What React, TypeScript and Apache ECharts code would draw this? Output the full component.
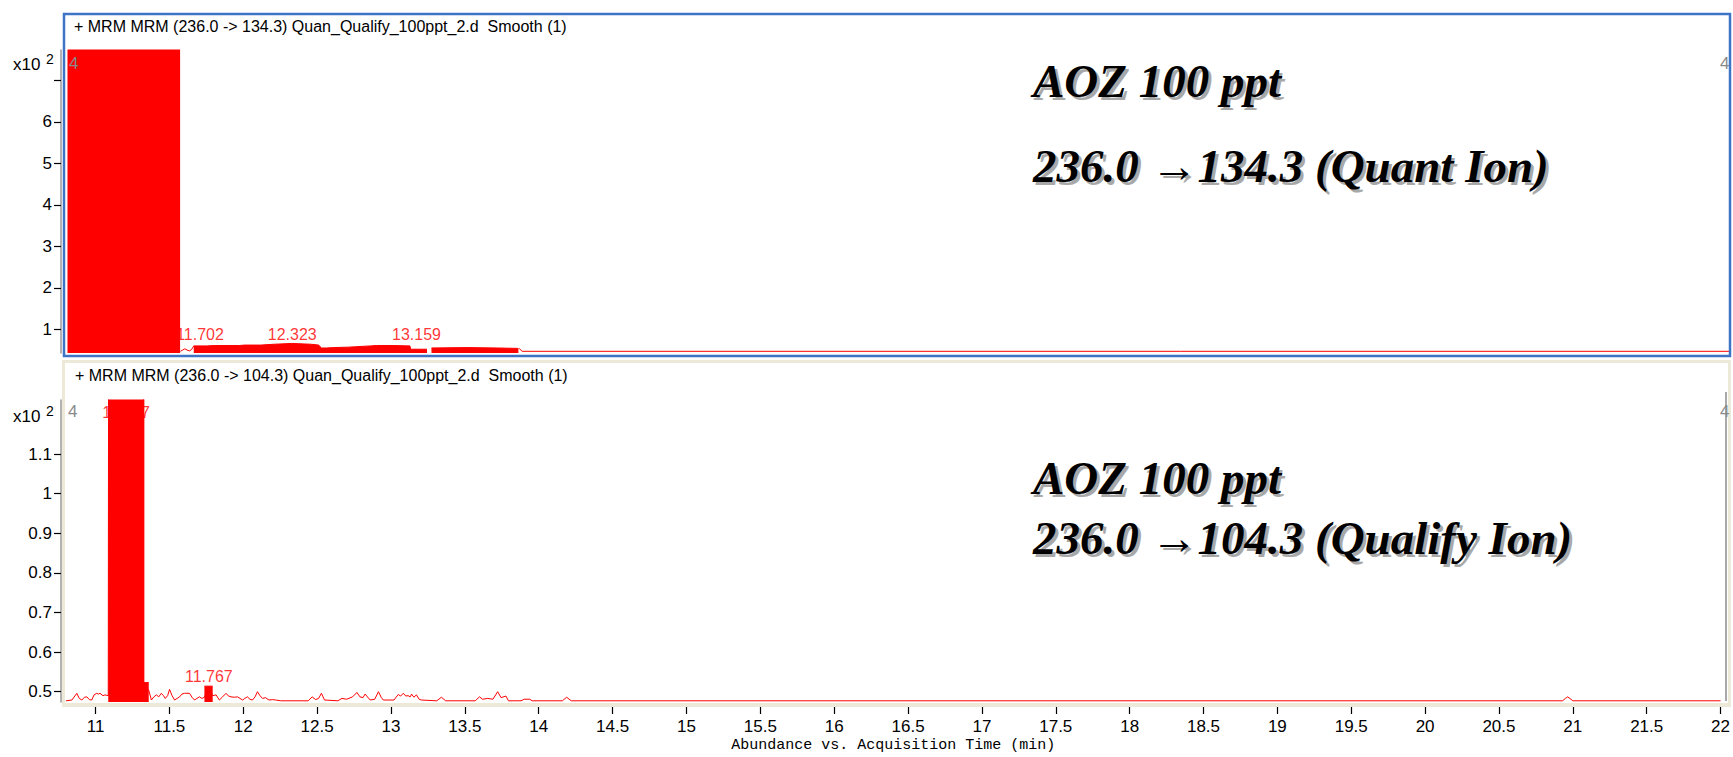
import React, { useEffect, useRef } from "react";
import * as echarts from "echarts";

const W = 1733;
const H = 757;

// ---- axis ticks ----
const xTicks = [11, 11.5, 12, 12.5, 13, 13.5, 14, 14.5, 15, 15.5, 16, 16.5, 17, 17.5, 18, 18.5, 19, 19.5, 20, 20.5, 21, 21.5, 22];
const topYLabels = [1, 2, 3, 4, 5, 6];
const topYTicks = [1, 2, 3, 4, 5, 6, 7];
const bottomYTicks = [0.5, 0.6, 0.7, 0.8, 0.9, 1, 1.1];

// ---- top panel (236.0 -> 134.3) ----
const topFillTimes = [10.81, 11.568, 11.6, 11.66, 11.75, 11.8, 11.97, 12.0, 12.11, 12.2, 12.32, 12.45, 12.5, 12.52, 12.555, 12.6, 12.7, 12.85, 12.89, 13.0, 13.115, 13.12, 13.23, 13.245, 13.26, 13.5, 13.7, 13.845];
const topFillValues = [9, 9, null, 0.6, 0.6, 0.61, 0.61, 0.62, 0.62, 0.64, 0.66, 0.64, 0.62, 0.55, 0.55, 0.56, 0.57, 0.6, 0.61, 0.61, 0.6, 0.52, 0.52, null, 0.55, 0.56, 0.55, 0.54];
const topTraceTimes = [11.57, 11.585, 11.6, 11.615, 11.63, 11.645, 11.66, 11.7, 13.85, 13.87, 18.3, 22];
const topTraceValues = [0.47, 0.5, 0.53, 0.5, 0.48, 0.51, 0.6, null, 0.54, 0.47, 0.47, 0.47];
const topPeakTimes = [11.702, 12.323, 13.159];
const topPeakLabelLevels = [0.863, 0.863, 0.863];

// ---- bottom panel (236.0 -> 104.3) ----
const bottomFillTimes = [11.086, 11.326, 11.326, 11.36, 11.4, 11.737, 11.793];
const bottomFillValues = [2, 2, 0.523, 0.523, null, 0.514, 0.514];
const bottomTraceTimes = [
  10.8, 10.84, 10.873, 10.89, 10.907, 10.925, 10.941, 10.958, 10.974, 10.99, 11.008, 11.02, 11.03, 11.05, 11.064, 11.086,
  11.09, 11.326, 11.326, 11.36, 11.378, 11.395, 11.412, 11.428, 11.445, 11.46, 11.472, 11.488, 11.501, 11.518, 11.535, 11.552,
  11.569, 11.585, 11.602, 11.619, 11.636, 11.653, 11.67, 11.686, 11.703, 11.72, 11.737, 11.765, 11.793, 11.816, 11.838,
  11.86, 11.883, 11.9, 11.917, 11.94, 11.961, 11.978, 11.995, 12.01, 12.028, 12.045, 12.062, 12.08, 12.096, 12.113,
  12.13, 12.15, 12.174, 12.2, 12.219, 12.253, 12.44, 12.466, 12.49, 12.51, 12.529, 12.55, 12.64, 12.668, 12.7, 12.74,
  12.769, 12.79, 12.81, 12.825, 12.845, 12.859, 12.89, 12.915, 12.935, 12.948, 13.02, 13.049, 13.065, 13.083, 13.1,
  13.116, 13.13, 13.139, 13.155, 13.172, 13.19, 13.206, 13.31, 13.341, 13.37, 13.57, 13.599, 13.62, 13.655, 13.69,
  13.722, 13.745, 13.778, 13.795, 13.88, 13.902, 13.94, 13.955, 14.16, 14.189, 14.22, 20.93, 20.95, 20.965, 20.98, 21.0, 22.0,
];
const bottomTraceValues = [
  0.477, 0.479, 0.496, 0.483, 0.479, 0.486, 0.487, 0.48, 0.479, 0.492, 0.496, 0.494, 0.496, 0.49, 0.492, 0.49,
  2, 2, 0.52, 0.504, 0.479, 0.487, 0.492, 0.487, 0.496, 0.49, 0.483, 0.49, 0.506, 0.49, 0.479, 0.483,
  0.487, 0.494, 0.496, 0.496, 0.496, 0.486, 0.479, 0.483, 0.487, 0.483, 0.486, 0.514, 0.49, 0.492, 0.479,
  0.487, 0.496, 0.489, 0.487, 0.486, 0.487, 0.483, 0.479, 0.483, 0.487, 0.481, 0.479, 0.487, 0.5, 0.49,
  0.483, 0.485, 0.479, 0.48, 0.479, 0.477, 0.477, 0.487, 0.48, 0.483, 0.496, 0.479, 0.477, 0.483, 0.481, 0.487,
  0.498, 0.487, 0.485, 0.494, 0.485, 0.479, 0.481, 0.5, 0.485, 0.479, 0.479, 0.493, 0.489, 0.496, 0.489,
  0.49, 0.487, 0.494, 0.486, 0.492, 0.481, 0.479, 0.477, 0.486, 0.477, 0.477, 0.487, 0.481, 0.483, 0.481,
  0.5, 0.485, 0.489, 0.477, 0.477, 0.481, 0.481, 0.477, 0.477, 0.486, 0.477, 0.477, 0.483, 0.487, 0.483, 0.477, 0.477,
];
const bottomPeakTimes = [11.207, 11.767];
const bottomPeakLabelLevels = [1.204, 0.538];

const topHeader = "+ MRM MRM (236.0 -> 134.3) Quan_Qualify_100ppt_2.d  Smooth (1)";
const bottomHeader = "+ MRM MRM (236.0 -> 104.3) Quan_Qualify_100ppt_2.d  Smooth (1)";
const topNote = ["AOZ 100 ppt", "236.0 \u2192134.3 (Quant Ion)"];
const bottomNote = ["AOZ 100 ppt", "236.0 \u2192104.3 (Qualify Ion)"];
const xAxisTitle = "Abundance vs. Acquisition Time (min)";

const SANS = "'Liberation Sans', Arial, sans-serif";
const RED = "#ff0000";

const zip = (t: number[], v: (number | null)[]) => t.map((x, i) => [x, v[i] === null ? "-" : v[i]]);

function noteTexts(lines: string[], x: number, ys: number[]) {
  const out: any[] = [];
  lines.forEach((txt, i) => {
    const common = { text: txt, fontFamily: "'Liberation Serif', 'Times New Roman', serif", fontSize: 47, fontWeight: "bold", fontStyle: "italic", verticalAlign: "middle", align: "left" };
    out.push({ type: "text", x: x + 3, y: ys[i] + 3, z: 20, style: { ...common, fill: "#a8a8a8" } });
    out.push({ type: "text", x: x, y: ys[i], z: 21, style: { ...common, fill: "#000" } });
  });
  return out;
}

export default function App() {
  const ref = useRef<HTMLDivElement>(null);
  useEffect(() => {
    document.body.style.margin = "0";
    const chart = echarts.init(ref.current!, null, { renderer: "svg", width: W, height: H });
    const labelStyle = { show: true, position: "inside", color: RED, fontSize: 16, fontFamily: SANS, formatter: (p: any) => p.value[0].toFixed(3) };
    const tickStyle = { color: "#000", width: 1.2 };
    const option: any = {
      animation: false,
      backgroundColor: "#fff",
      grid: [
        { left: 66, width: 1664, top: 50, height: 303 },
        { left: 66, width: 1664, top: 400, height: 302 },
      ],
      xAxis: [
        { type: "value", gridIndex: 0, min: 10.8, max: 22, show: false },
        {
          type: "value", gridIndex: 1, min: 10.8, max: 22, offset: 5,
          axisLine: { show: false },
          axisTick: { show: true, length: 7, lineStyle: tickStyle, customValues: xTicks },
          axisLabel: { show: true, customValues: xTicks, margin: 11, color: "#000", fontSize: 17, fontFamily: SANS, formatter: (v: number) => String(v) },
          splitLine: { show: false },
          name: xAxisTitle, nameLocation: "middle", nameGap: 31,
          nameTextStyle: { fontFamily: "'Liberation Mono', 'DejaVu Sans Mono', monospace", fontSize: 15, color: "#000" },
        },
      ],
      yAxis: [
        {
          type: "value", gridIndex: 0, min: 0.429, max: 7.73, offset: 5,
          axisLine: { show: true, lineStyle: { color: "#9a9a9a", width: 1.5 } },
          axisTick: { show: true, length: 7, lineStyle: tickStyle, customValues: topYTicks },
          axisLabel: { show: true, customValues: topYLabels, margin: 9, color: "#000", fontSize: 17, fontFamily: SANS },
          splitLine: { show: false },
        },
        {
          type: "value", gridIndex: 1, min: 0.474, max: 1.2366, offset: 5,
          axisLine: { show: true, lineStyle: { color: "#9a9a9a", width: 1.5 } },
          axisTick: { show: true, length: 7, lineStyle: tickStyle, customValues: bottomYTicks },
          axisLabel: { show: true, customValues: bottomYTicks, margin: 9, color: "#000", fontSize: 17, fontFamily: SANS, formatter: (v: number) => String(Math.round(v * 10) / 10) },
          splitLine: { show: false },
        },
      ],
      series: [
        { type: "scatter", name: "topPeaks", xAxisIndex: 0, yAxisIndex: 0, z: 1, symbolSize: 0, data: topPeakTimes.map((t, i) => [t, topPeakLabelLevels[i]]), label: labelStyle },
        { type: "line", name: "topFill", xAxisIndex: 0, yAxisIndex: 0, z: 3, symbol: "none", connectNulls: false, data: zip(topFillTimes, topFillValues), lineStyle: { color: RED, width: 1 }, areaStyle: { color: RED, opacity: 1, origin: "start" } },
        { type: "line", name: "topTrace", xAxisIndex: 0, yAxisIndex: 0, z: 4, symbol: "none", connectNulls: false, data: zip(topTraceTimes, topTraceValues), lineStyle: { color: RED, width: 1 } },
        { type: "scatter", name: "bottomPeaks", xAxisIndex: 1, yAxisIndex: 1, z: 1, symbolSize: 0, data: bottomPeakTimes.map((t, i) => [t, bottomPeakLabelLevels[i]]), label: labelStyle },
        { type: "line", name: "bottomTrace", xAxisIndex: 1, yAxisIndex: 1, z: 2, symbol: "none", data: zip(bottomTraceTimes, bottomTraceValues), lineStyle: { color: RED, width: 1 } },
        { type: "line", name: "bottomFill", xAxisIndex: 1, yAxisIndex: 1, z: 3, symbol: "none", connectNulls: false, data: zip(bottomFillTimes, bottomFillValues), lineStyle: { color: RED, width: 1 }, areaStyle: { color: RED, opacity: 1, origin: "start" } },
      ],
      graphic: [
        { type: "rect", z: 10, silent: true, shape: { x: 64, y: 14, width: 1666, height: 342 }, style: { fill: "none", stroke: "#3f73c6", lineWidth: 2.5 } },
        { type: "rect", z: 10, silent: true, shape: { x: 63.5, y: 361.5, width: 1666, height: 343 }, style: { fill: "none", stroke: "#ece9d8", lineWidth: 3 } },
        { type: "rect", z: 10, silent: true, shape: { x: 62, y: 703, width: 1669, height: 4 }, style: { fill: "#ece9d8" } },
        { type: "line", z: 10, silent: true, shape: { x1: 1726, y1: 392, x2: 1726, y2: 701 }, style: { stroke: "#8c8c8c", lineWidth: 1.5 } },
        { type: "text", z: 12, x: 74, y: 26, style: { text: topHeader, fontFamily: SANS, fontSize: 16, fill: "#000", verticalAlign: "middle" } },
        { type: "text", z: 12, x: 75, y: 375, style: { text: bottomHeader, fontFamily: SANS, fontSize: 16, fill: "#000", verticalAlign: "middle" } },
        { type: "text", z: 12, x: 13, y: 64, style: { text: "x10", fontFamily: SANS, fontSize: 17, fill: "#000", verticalAlign: "middle" } },
        { type: "text", z: 12, x: 46, y: 59, style: { text: "2", fontFamily: SANS, fontSize: 14, fill: "#000", verticalAlign: "middle" } },
        { type: "text", z: 12, x: 13, y: 416, style: { text: "x10", fontFamily: SANS, fontSize: 17, fill: "#000", verticalAlign: "middle" } },
        { type: "text", z: 12, x: 46, y: 411, style: { text: "2", fontFamily: SANS, fontSize: 14, fill: "#000", verticalAlign: "middle" } },
        { type: "text", z: 12, x: 69, y: 63, style: { text: "4", fontFamily: SANS, fontSize: 17, fill: "#8a8a8a", verticalAlign: "middle" } },
        { type: "text", z: 12, x: 1720, y: 63, style: { text: "4", fontFamily: SANS, fontSize: 17, fill: "#8a8a8a", verticalAlign: "middle" } },
        { type: "text", z: 12, x: 68, y: 411, style: { text: "4", fontFamily: SANS, fontSize: 17, fill: "#8a8a8a", verticalAlign: "middle" } },
        { type: "text", z: 12, x: 1720, y: 411, style: { text: "4", fontFamily: SANS, fontSize: 17, fill: "#8a8a8a", verticalAlign: "middle" } },
        ...noteTexts(topNote, 1033, [81, 166]),
        ...noteTexts(bottomNote, 1033, [478, 538]),
      ],
    };
    chart.setOption(option);
    return () => chart.dispose();
  }, []);
  return <div ref={ref} style={{ width: W, height: H }} />;
}
